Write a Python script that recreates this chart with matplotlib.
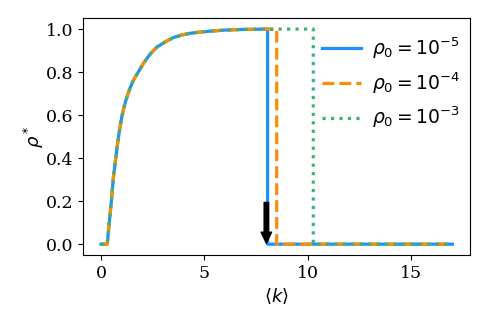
import matplotlib
matplotlib.use('Agg')
from matplotlib import pyplot as plt

# rising branch (shared by all three curves)
K_RISE = [0.0, 0.30, 0.36, 0.42, 0.51, 0.60, 0.70, 0.78, 0.88, 1.00, 1.12, 1.24, 1.40,
          1.56, 1.80, 2.05, 2.35, 2.69, 3.10, 3.50, 3.90, 4.30, 4.80, 5.27, 6.00, 6.80, 7.60]
RHO_RISE = [0.0, 0.0, 0.06, 0.12, 0.21, 0.31, 0.39, 0.45, 0.52, 0.59, 0.64, 0.68, 0.725,
            0.76, 0.80, 0.84, 0.88, 0.915, 0.94, 0.96, 0.972, 0.98, 0.986, 0.99, 0.995, 0.998, 0.999]

K_MAX = 17.0
K_DROP = [8.06, 8.5, 10.27]  # where each curve falls to zero
LABELS = [r'$\rho_0 = 10^{-5}$', r'$\rho_0 = 10^{-4}$', r'$\rho_0 = 10^{-3}$']
COLORS = ['#1E90FF', '#FF8C00', '#3CB371']
STYLES = ['-', '--', ':']

ARROW_X = 8.0
ARROW_TOP = 0.194
ARROW_BOTTOM = 0.004

plt.rcParams['font.family'] = 'serif'
plt.rcParams['font.size'] = 13
plt.rcParams['xtick.labelsize'] = 12.5
plt.rcParams['ytick.labelsize'] = 12.5

fig = plt.figure(figsize=(4.88, 3.26), dpi=100)
ax = fig.add_axes([0.171, 0.218, 0.792, 0.726])

for kd, lab, col, ls in zip(K_DROP, LABELS, COLORS, STYLES):
    ks = [k for k in K_RISE if k < kd] + [kd, kd, K_MAX]
    rs = [r for k, r in zip(K_RISE, RHO_RISE) if k < kd] + [1.0, 0.0, 0.0]
    ax.plot(ks, rs, ls, color=col, lw=2.3, label=lab)

ax.annotate('', xy=(ARROW_X, ARROW_BOTTOM), xytext=(ARROW_X, ARROW_TOP),
            arrowprops=dict(facecolor='black', edgecolor='black', width=3.2,
                            headwidth=7.5, headlength=8, shrink=0))

ax.set_xticks([0, 5, 10, 15])
ax.set_yticks([0.0, 0.2, 0.4, 0.6, 0.8, 1.0])
ax.set_xlabel(r'$\langle k \rangle$')
ax.set_ylabel(r'$\rho^*$', labelpad=0)
ax.legend(loc='upper right', bbox_to_anchor=(1.02, 1.0), frameon=False,
          fontsize=13.5, handlelength=2.1, handletextpad=0.6)

fig.savefig('out.png', dpi=100)
